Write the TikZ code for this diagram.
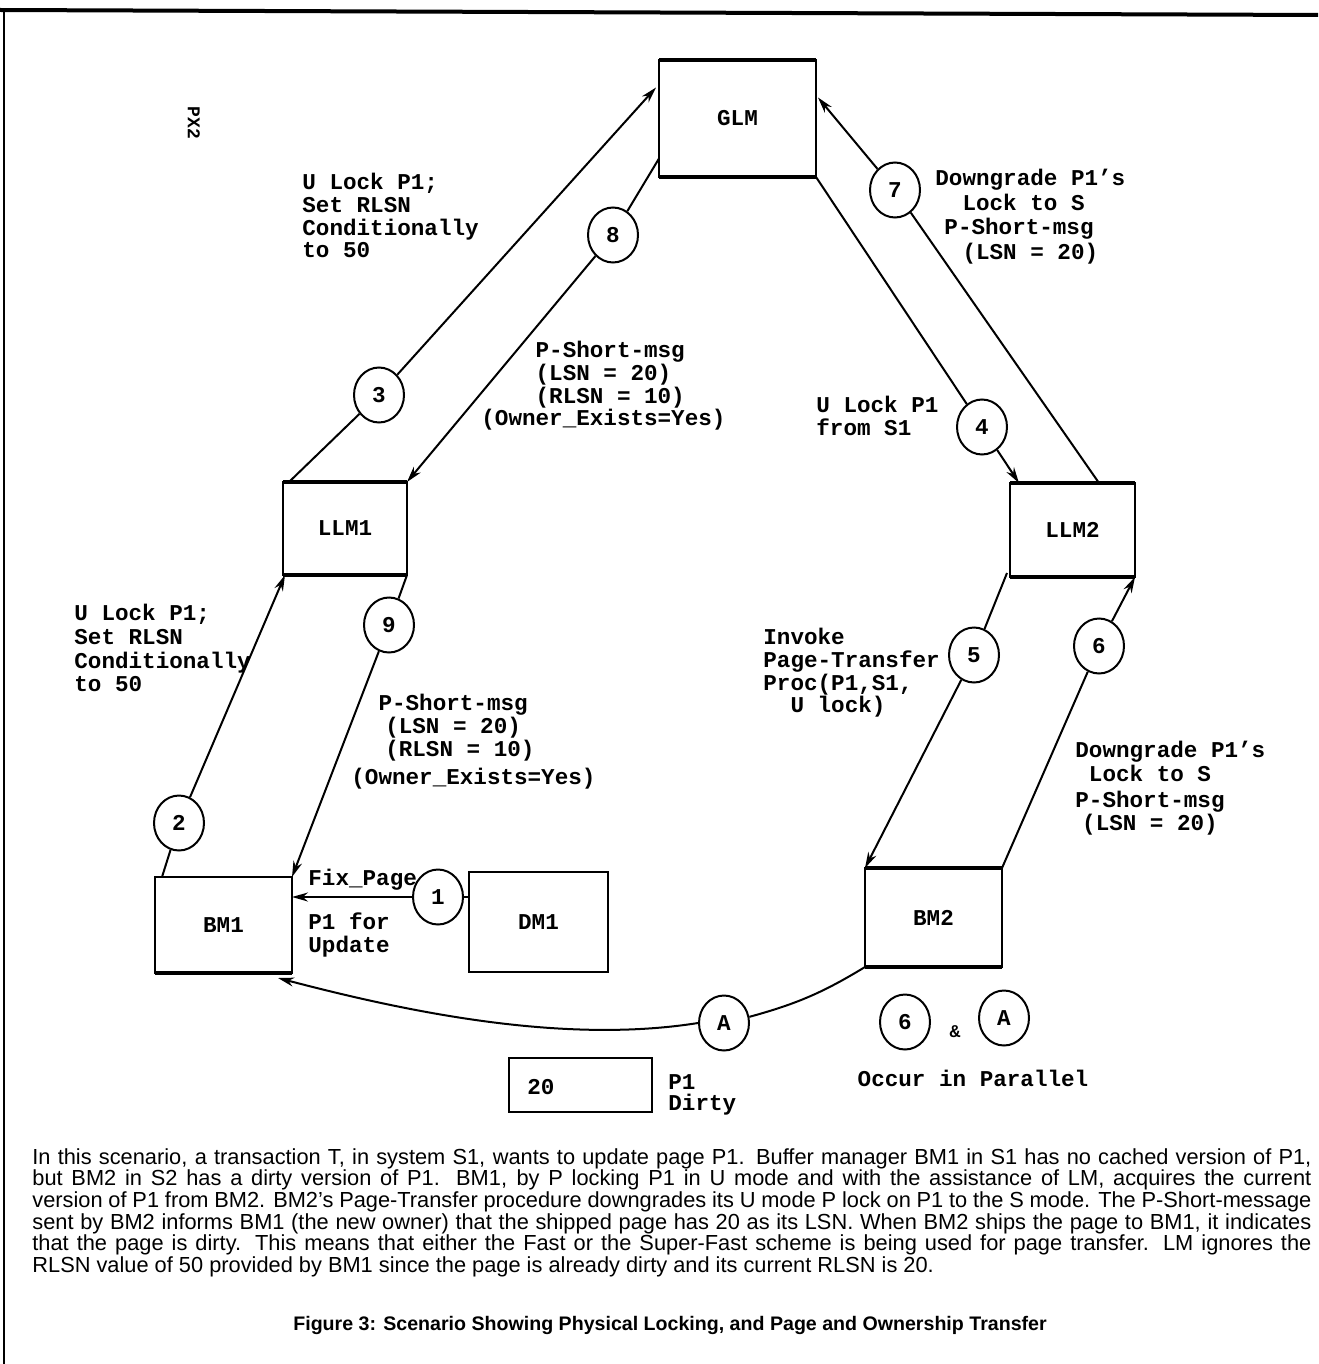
\documentclass[tikz,border=0pt]{standalone}
\usepackage{fontspec}
\usetikzlibrary{arrows.meta,shapes.geometric,calc}
\newfontfamily\monof{Liberation Mono}
\newfontfamily\sansf{Liberation Sans}
\newcommand\labf{\monof\bfseries\fontsize{11.3}{11.4}\selectfont}
\newcommand\mystrut{\rule{0pt}{8.5pt}}
\begin{document}
\begin{tikzpicture}[x=0.5pt,y=-0.5pt,
  box/.style={draw, line width=1pt, inner sep=0pt, outer sep=0pt, font=\labf},
  num/.style={draw, ellipse, line width=1pt, minimum width=25pt, minimum height=27.5pt, inner sep=0pt, font=\labf},
  lab/.style={anchor=north west, align=left, inner sep=0pt, font=\labf},
  conn/.style={line width=1pt},
  arr/.style={line width=1pt, -{Stealth[length=8pt,width=4.5pt]}}]
\useasboundingbox (0,0) rectangle (1318,1364);
% frame
\draw[line width=2pt] (0,10) -- (1318,15);
\draw[line width=1.2pt] (4,10) -- (4,1364);
% boxes
\node[box, minimum width=78.5pt, minimum height=58.5pt] (glm) at (737.5,118.5) {GLM};
\node[box, minimum width=62pt, minimum height=46.5pt] (llm1) at (345,528.5) {LLM1};
\node[box, minimum width=62.5pt, minimum height=47pt] (llm2) at (1072.5,530) {LLM2};
\node[box, minimum width=68.5pt, minimum height=48pt] (bm1) at (223.5,925) {BM1};
\node[box, minimum width=69.5pt, minimum height=50pt] (dm1) at (538.5,922) {DM1};
\node[box, minimum width=68.5pt, minimum height=49.5pt] (bm2) at (933.5,917.5) {BM2};
\node[box, minimum width=71.5pt, minimum height=27pt] (p1box) at (580.5,1085) {};
\node[anchor=west, inner sep=0pt, font=\labf] (twenty) at (527,1087) {20};
\foreach \n in {glm,llm1,llm2,bm2}{
  \draw[line width=1.7pt] (\n.north west) -- (\n.north east);
  \draw[line width=1.7pt] (\n.south west) -- (\n.south east);}
\draw[line width=1.7pt] (bm1.south west) -- (bm1.south east);
% circles
\node[num] (c1) at (438,897) {1};
\node[num] (c2) at (179,823) {2};
\node[num] (c3) at (379,395) {3};
\node[num] (c4) at (982,427) {4};
\node[num] (c5) at (974,655) {5};
\node[num] (c6) at (1099,646) {6};
\node[num] (c7) at (895,190) {7};
\node[num] (c8) at (613,235) {8};
\node[num] (c9) at (389,625) {9};
\node[num] (cA) at (724,1023) {A};
\node[num] (c6b) at (905,1022) {6};
\node[num] (cAb) at (1004,1018) {A};
% connectors
\draw[arr] (c1.west) -- (c1.west -| bm1.east);
\draw[conn] (c1.east) -- (c1.east -| dm1.west);
\draw[conn] ($(bm1.north west)+(7,0)$) -- (c2);
\draw[arr] (c2) -- ($(llm1.south west)+(2,0)$);
\draw[conn] ($(llm1.north west)+(6,0)$) -- (c3);
\draw[arr] (c3) -- ($(glm.west)+(-3,-31)$);
\draw[conn] ($(glm.west)+(0,40)$) -- (c8);
\draw[arr] (c8) -- (llm1.north east);
\draw[conn] (glm.south east) -- (c4);
\draw[arr] (c4) -- ($(llm2.north west)+(9,0)$);
\draw[conn] ($(llm2.north west)+(89,0)$) -- (c7);
\draw[arr] (c7) -- ($(glm.east)+(2,-21)$);
\draw[conn] ($(llm2.south west)+(-3,-4)$) -- (c5);
\draw[arr] (c5) -- (bm2.north west);
\draw[conn] (bm2.north east) -- (c6);
\draw[arr] (c6) -- (llm2.south east);
\draw[conn] (llm1.south east) -- (c9);
\draw[arr] (c9) -- (bm1.north east);
\draw[conn] (bm2.south west) to[bend left=8] (cA);
\draw[arr] (cA.west) .. controls (560,1045) and (400,1010) .. ($(bm1.south east)+(-14,5)$);
% labels
\node[lab] (t3) at (302,172) {\mystrut U Lock P1;\\Set RLSN\\Conditionally\\to 50};
\node[lab] (t8) at (481,340) {\mystrut\hspace*{2.4em}P-Short-msg\\\hspace*{2.4em}(LSN = 20)\\\hspace*{2.4em}(RLSN = 10)\\(Owner\_Exists=Yes)};
\node[lab] (t7) at (935,168) {\mystrut Downgrade P1’s\\[1pt]\hspace*{1.2em}Lock to S\\[1pt]\hspace*{0.4em}P-Short-msg\\[1pt]\hspace*{1.2em}(LSN = 20)};
\node[lab] (t4) at (816,395) {\mystrut U Lock P1\\from S1};
\node[lab] (t5) at (763,627) {\mystrut Invoke\\Page-Transfer\\Proc(P1,S1,\\\hspace*{1.2em}U lock)};
\node[lab] (t6) at (1075,740) {\mystrut Downgrade P1’s\\[0.5pt]\hspace*{0.6em}Lock to S\\[1.5pt]P-Short-msg\\[0.5pt]\hspace*{0.3em}(LSN = 20)};
\node[lab] (t2) at (74,603) {\mystrut U Lock P1;\\[0.5pt]Set RLSN\\[0.5pt]Conditionally\\[0.5pt]to 50};
\node[lab] (t9) at (351,693) {\mystrut\hspace*{1.2em}P-Short-msg\\\hspace*{1.5em}(LSN = 20)\\\hspace*{1.5em}(RLSN = 10)\\[3pt](Owner\_Exists=Yes)};
\node[lab] (tfix) at (308,868) {\mystrut Fix\_Page};
\node[lab] (tupd) at (308,912) {\mystrut P1 for\\Update};
\node[font=\labf, inner sep=0pt] (tocc) at (973,1078) {Occur in Parallel};
\node[font=\monof\bfseries\fontsize{9}{9}\selectfont, inner sep=0pt] (tamp) at (955,1032) {\&};
\node[lab] (tdirty) at (668,1072) {\mystrut P1\\[-1pt]Dirty};
\node[font=\monof\bfseries\fontsize{9}{9}\selectfont, inner sep=0pt, rotate=-90] (tpx) at (194,123) {PX2};
% paragraph
\node[anchor=north west, inner sep=0pt, font=\sansf\fontsize{10.9}{10.8}\selectfont] (para) at (32,1148) {\vbox{%
\hbox to 639.5pt{In this scenario, a transaction T, in system S1, wants to update page P1. Buffer manager BM1 in S1 has no cached version of P1,}
\hbox to 639.5pt{but BM2 in S2 has a dirty version of P1. BM1, by P locking P1 in U mode and with the assistance of LM, acquires the current}
\hbox to 639.5pt{version of P1 from BM2. BM2’s Page-Transfer procedure downgrades its U mode P lock on P1 to the S mode. The P-Short-message}
\hbox to 639.5pt{sent by BM2 informs BM1 (the new owner) that the shipped page has 20 as its LSN. When BM2 ships the page to BM1, it indicates}
\hbox to 639.5pt{that the page is dirty. This means that either the Fast or the Super-Fast scheme is being used for page transfer. LM ignores the}
\hbox{RLSN value of 50 provided by BM1 since the page is already dirty and its current RLSN is 20.}}};
\node[font=\sansf\bfseries\fontsize{9.8}{12}\selectfont, inner sep=0pt] (caption) at (670,1325) {Figure 3: Scenario Showing Physical Locking, and Page and Ownership Transfer};
\end{tikzpicture}
\end{document}
